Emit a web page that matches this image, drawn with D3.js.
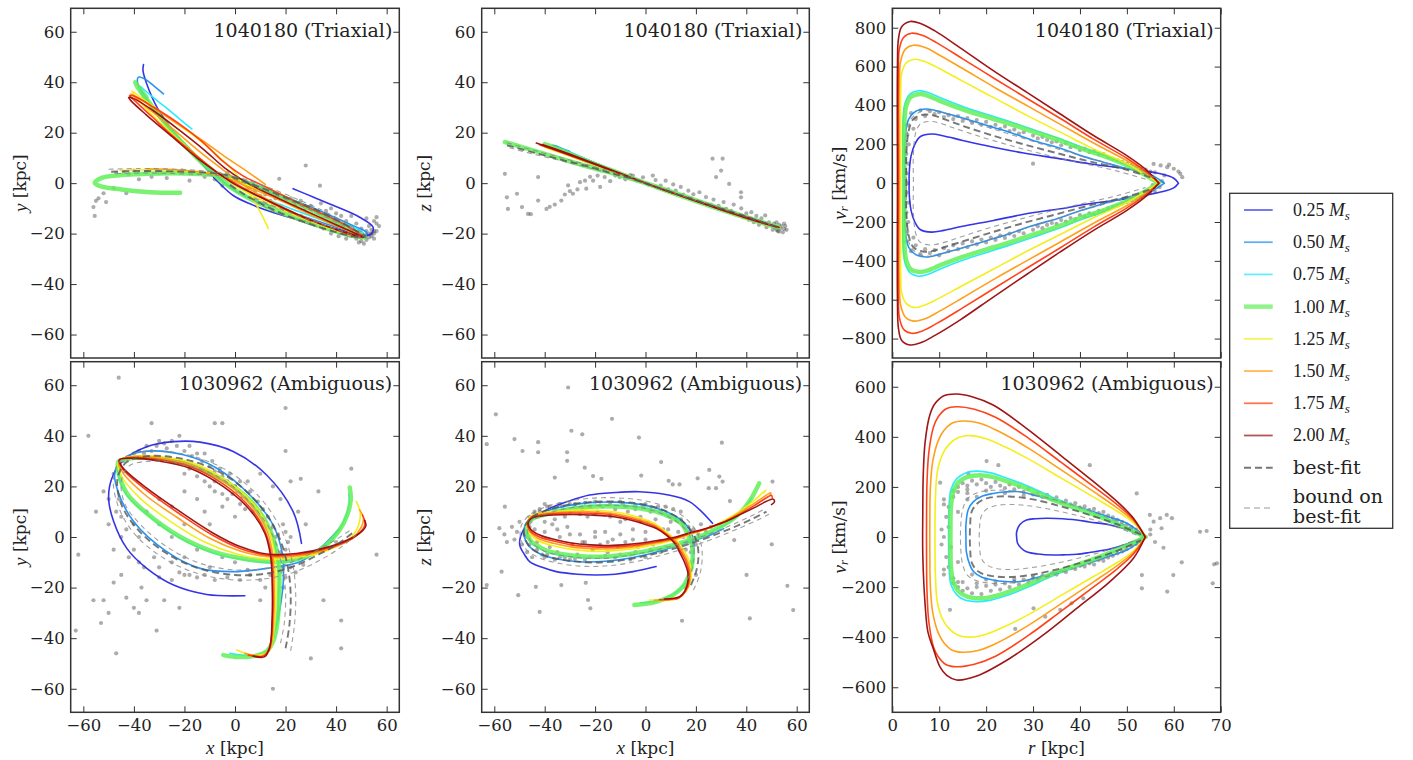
<!DOCTYPE html>
<html><head><meta charset="utf-8">
<script src="https://cdn.jsdelivr.net/npm/d3@7"></script>
<style>body{margin:0;background:#fff}</style>
</head><body>
<svg id="chart" width="1413" height="760"></svg>
<script>
// ---------------- DATA ----------------
const masses = ["0.25","0.50","0.75","1.00","1.25","1.50","1.75","2.00"];
const titles = ["1040180 (Triaxial)","1030962 (Ambiguous)"];
const xyTicks = [-60,-40,-20,0,20,40,60];
const rTicks = [0,10,20,30,40,50,60,70];
const vTicksTop = [-800,-600,-400,-200,0,200,400,600,800];
const vTicksBot = [-600,-400,-200,0,200,400,600];

// Panel 1: x-y, 1040180
const p1_m025 = [[-36.2,47],[-36.4,44.6],[-34.9,39.3],[-30.9,30.1],[-25.7,22.2],[-19.1,14.2],[-12.5,7],[-7.2,1],[-0.7,-4.9],[5.9,-8.2],[19,-12.8],[32.2,-16.1],[45.4,-19.4],[52,-20.7],[54,-20],[54.6,-17.4],[49.3,-13.5],[38.8,-8.8],[30.9,-5.5],[23,-2.2]];
const p1_m050 = [[-28.3,35.4],[-32,38.5],[-36,41.5],[-38.2,42],[-38.5,39.5],[-36,35],[-31,28],[-24,20],[-16,11.5],[-8,3.5],[0,-3],[10,-7.5],[22,-11.5],[34,-15.5],[45,-19],[51.5,-21],[52,-19.5],[47,-17],[36,-12],[25,-7.5],[14,-3],[4,1],[-4,3.5]];
const p1_m075 = [[-17.1,21.5],[-22,25.5],[-28,30.5],[-33,34.5],[-36.5,37.5],[-37.5,38.3],[-37.5,36],[-34,31],[-28,24],[-20,15.5],[-12,7.5],[-5,2],[3,-2.5],[14,-7],[26,-11.5],[38,-16],[47,-19.5],[51.5,-21],[50,-19],[42,-15.5],[30,-10.5],[18,-5.5],[6,-0.5],[-3,3]];
const p1_m100 = [[-21.7,-3.8],[-33.6,-3.6],[-45,-2.5],[-53,-1.3],[-55.5,0],[-53,2],[-45,3.2],[-35,3.7],[-25,3.9],[-14,3.6],[-6,3],[2,1.2],[10,-2],[20,-6],[32,-11.5],[43,-17],[50,-20.5],[51.5,-21.5],[47,-21],[38,-18.5],[26,-14.5],[13,-9.5],[2,-4],[-6,1.5],[-12,7],[-19,14],[-27,23],[-34,32],[-38.5,38],[-39.5,40],[-38.5,38.5],[-35,34]];
const p1_m125 = [[-45.4,5],[-35,5.3],[-22,5],[-12,4.2],[-5,2.8],[4,-0.5],[16,-5.5],[30,-12],[42,-17.5],[50,-20.8],[51,-21.5],[46,-20.5],[35,-17],[22,-12],[10,-6.5],[0,-1],[-8,5],[-17,12.5],[-27,21.5],[-36,30.5],[-40.8,36.5],[-38,34.5],[-30,28.7],[-22,22.9],[-13.8,16.9],[-7,11],[-0.7,5],[5,-3],[9,-9.5],[13.2,-18]];
const p1_m150 = [[-34.9,5.7],[-25,5.4],[-15,4.6],[-6,3],[4,-1],[16,-6],[30,-12.5],[42,-17.8],[50,-21],[51,-21.6],[46,-20.5],[35,-16.5],[23,-11.5],[12,-6],[3,-0.5],[-5,5.5],[-14,12.5],[-24,21],[-33,28.5],[-39.5,34],[-41.2,35.4],[-39.5,34.5],[-31,29],[-22,23],[-13,17],[-4,10.5],[5,4.5],[12,-0.5]];
const p1_m175 = [[30,-15],[20,-10.5],[10,-5.5],[0,0],[-8,5],[-16,11.5],[-25,19],[-33,26.5],[-39.5,32.5],[-41.7,34.7],[-40,34.5],[-32,30],[-22,23.5],[-13,16.5],[-4.6,8.5],[3,3],[12.5,-1.6],[25.7,-8.2],[38.8,-14.1],[47,-18.5],[50.5,-21],[48,-21],[40,-18.5]];
const p1_m200 = [[-6,3.5],[-15,10],[-25,18.5],[-35,27],[-41,32.5],[-42.1,34],[-40,33.5],[-32,28.5],[-22,21],[-12,13],[-4,6],[5,0],[16,-5.5],[28,-11],[40,-16.5],[49,-20.5],[51,-21.5],[47,-20.5],[36,-17],[25,-12.5],[12,-6.5],[0,-0.5],[-6,3.5]];
const p1_best = [[-49,4.5],[-40,4.8],[-30,4.8],[-20,4.5],[-12,4.2],[-5,3.5],[3,1],[12,-2.5],[22,-6.5],[32,-10.5],[42,-15.5],[49,-19.5],[51.5,-21],[49,-21.5],[42,-20],[32,-17],[22,-13.5],[12,-9],[3,-4],[-3,0]];
const p1_bound1 = [[-50,5.5],[-38,5.8],[-25,5.6],[-14,5],[-5,4],[4,1.5],[14,-2],[25,-6.5],[36,-11.5],[46,-17],[51.5,-20.5],[52,-21.5],[47,-21.5],[38,-19],[27,-15.5],[15,-11],[5,-5.5]];
const p1_bound2 = [[-47,3.8],[-36,4],[-24,3.8],[-13,3.4],[-5,2.8],[4,0],[14,-4],[25,-8.5],[36,-13.5],[46,-18.5],[50.5,-20.5],[49,-21],[42,-19],[32,-15.5],[20,-11],[8,-6]];
const p1_scatter = [[-56,-9.5],[-55,-7],[-54,-6],[-51,-7.5],[-55.5,-13],[-52,-4],[-43,-4],[-48,-2],[-47,4],[-44,4.5],[-42,3.5],[-40,5],[-38,1.5],[-35,4.5],[-33,2.5],[-30,4],[-27,2],[-25,4.5],[-21,5],[-18,1],[-15,4],[-12,2.5],[-10,5],[-8,1.5],[-6,2],[-3,4],[0,2],[3,0],[6,-1],[8,-3],[10,-2],[12,-4.5],[14,-3],[16,-6],[17.5,1.7],[18,-5],[20,-7],[22,-6],[24,-8.5],[26,-7],[28,7],[28,-10],[30,-9],[32,-11],[33.6,-1],[34,-8],[35,-13],[36,-11],[38,-10],[38,-14],[40,-12],[41,-16],[42,-13],[43,-18],[44,-15],[45,-17],[46,-19],[46,-13],[47,-21],[48,-16],[48,-22],[49,-20],[50,-18],[50,-23],[51,-21],[52,-19],[52,-22.5],[53,-20],[53,-17],[54,-21],[54,-18.5],[55,-20],[55,-15],[56,-19],[56,-16],[57,-17],[55,-22],[51,-24],[49,-23.5],[44,-22],[41,-21],[38,-20],[35,-18],[30,-15],[26,-13],[22,-12],[18,-9],[14,-7],[10,-5],[8,-6],[5,-2],[56,-13.5],[52,-14],[-5,-1],[53,-21.5],[54,-20],[55,-19],[52,-20.5],[50,-21.5]];

// Panel 2: x-z, 1040180
const p2_m025 = [[-36.7,15],[-32,13],[-28.8,11.6],[-20,8],[-10,4],[0,0],[10,-3.6],[20,-7],[30,-10.5],[40,-13.5],[48,-16],[52,-17.2],[53,-17.8],[51,-17.5]];
const p2_m050 = [[-30,12.5],[-34,14],[-36,15],[-30,12.3],[-20,8],[-10,4],[0,0],[12,-4.2],[25,-8.8],[38,-13],[48,-16.2],[52.5,-17.5]];
const p2_m075 = [[-30,12],[-35,14.2],[-28,11.5],[-18,7.2],[-8,3.2],[2,-0.7],[15,-5.2],[28,-9.8],[40,-13.7],[50,-16.8],[53,-17.6]];
const p2_m100 = [[-55.8,16.3],[-48,14],[-40,11.6],[-32,9.2],[-22,6.3],[-12,3.6],[0,0],[12,-4],[25,-8.5],[38,-12.8],[48,-16],[53,-17.5],[48,-16.3],[36,-12.5],[22,-7.8],[10,-3.7],[0,0],[-10,3.8],[-20,7.5],[-30,11.5],[-37,14.5],[-40,15.5]];
const p2_m125 = [[-40,14.2],[-30,10.8],[-20,7.2],[-10,3.6],[0,0],[12,-4.2],[25,-8.6],[38,-12.9],[48,-16.2],[52.5,-17.4],[45,-15.2],[30,-10.3],[15,-5.2],[0,0],[-12,4.5],[-25,9.3]];
const p2_m150 = [[-41,14.8],[-30,10.9],[-18,6.6],[-6,2.2],[6,-2.2],[18,-6.3],[30,-10.3],[42,-14.2],[50,-16.8],[53,-17.6],[44,-15],[30,-10.4],[16,-5.6],[2,-0.7],[-12,4.4],[-26,9.6],[-36,13.2]];
const p2_m175 = [[-42,15.2],[-30,11.1],[-18,6.7],[-6,2.2],[6,-2.2],[18,-6.3],[30,-10.3],[42,-14.2],[50,-16.8],[53,-17.6],[44,-15.1],[30,-10.5],[16,-5.7],[2,-0.7],[-12,4.5],[-26,9.7],[-38,14]];
const p2_m200 = [[-43.3,15.9],[-32,11.9],[-20,7.5],[-10,3.8],[0,0],[12,-4.3],[25,-8.7],[38,-12.9],[48,-16.1],[53,-17.5],[47,-15.9],[35,-12.1],[22,-7.8],[10,-3.6],[0,0],[-12,4.6],[-25,9.6],[-36,13.6],[-41,15.3]];
const p2_best = [[-55,15],[-45,12.3],[-35,9.7],[-25,7.2],[-15,4.4],[-5,1.6],[5,-1.8],[15,-5.2],[25,-8.5],[35,-11.7],[45,-15],[52,-17.3]];
const p2_bound1 = [[-55,16],[-45,13.2],[-35,10.5],[-25,7.8],[-15,5],[-5,2.1],[5,-1.4],[15,-4.8],[25,-8.1],[35,-11.3],[45,-14.6],[52,-17]];
const p2_bound2 = [[-54,14],[-44,11.4],[-34,9],[-24,6.5],[-14,3.9],[-4,1.1],[6,-2.2],[16,-5.6],[26,-8.9],[36,-12.1],[46,-15.4],[52.5,-17.6]];
const p2_scatter = [[-55.8,3.7],[-55,-5.6],[-54.6,-10.2],[-51,-4.2],[-49,-9.5],[-46.6,-12.2],[-45.5,-12.3],[-42.6,2.4],[-42.6,-6.9],[-39.3,-10.2],[-38,-9.4],[-36,-8.5],[-33.4,-6.9],[-32,-4.5],[-30.7,-0.9],[-30,-3.2],[-28.8,-4.2],[-27,-2.5],[-26,0.4],[-24,1],[-23.5,-2.2],[-22,2.5],[-20.8,1],[-19,3],[-18,-1.5],[-16.2,2.4],[-14,0.8],[-12,3],[-10.3,2.4],[-8,1.5],[-6,3.2],[-5,3],[-3,1],[-1,2.3],[1,-0.5],[2.9,3],[4,1.2],[6,-1],[8,1],[9,-2.5],[11,-0.5],[12,-3],[14,-1.5],[15,-4.5],[17,-3],[18,-6],[19,-4.4],[21.4,-3.6],[22,-7.5],[24,-5.5],[26,-8.5],[26.6,9.7],[27,-6.5],[28,2.4],[29,-9],[30,5],[30.6,9.7],[31,-7.5],[32,-10.2],[33.2,-0.3],[34,-11],[35,-8.5],[36,-12.5],[37.9,-3.6],[37.9,-5.6],[38,-10],[39,-13.5],[40,-12],[41,-14.5],[42,-11.5],[43,-15.5],[44,-13],[45,-16.5],[46,-14],[47,-16],[47.5,-12.8],[48,-17.5],[49,-15.5],[50,-16.8],[50.5,-18.5],[51,-16],[51.5,-17.5],[52,-15.5],[52.5,-19],[53,-16.5],[53.5,-18],[54,-17],[54.5,-19.5],[55,-16],[55,-18.2],[55.5,-17],[56,-18.5],[52,-18.5],[53,-19.2]];

// Panel 3: r-vr, 1040180
const p3_m025 = [[61,0],[60,25],[57.2,48],[50,74],[42,100],[35.8,125],[28,155],[21.6,185],[15,220],[11,243],[8.4,253],[6,240],[4.8,200],[4,140],[3.6,50],[3.6,0],[3.6,-50],[4,-140],[4.8,-200],[6,-240],[8.4,-252],[11,-243],[15,-222],[21.6,-192],[28,-160],[35.8,-132],[42,-106],[50,-80],[57.2,-46],[60,-24],[61,0]];
const p3_m050 = [[58,0],[55,45],[50,74],[45,108],[40,143],[35.8,180],[30,220],[25,262],[21.6,287],[15,335],[11,362],[8.5,378],[7.3,382],[5,370],[3.5,330],[2.8,250],[2.7,0],[2.8,-250],[3.5,-330],[5,-368],[7.3,-380],[8.5,-376],[11,-360],[15,-333],[21.6,-285],[25,-260],[30,-218],[35.8,-178],[40,-142],[45,-106],[50,-73],[55,-44],[58,0]];
const p3_m075 = [[56.8,0],[53,58],[50,97],[45,147],[40,189],[35.8,228],[30,276],[25,317],[21.6,343],[15,395],[10,442],[7.5,468],[5.6,476],[3.8,460],[2.7,410],[2.3,320],[2.3,0],[2.3,-320],[2.7,-410],[3.8,-462],[5.6,-479],[7.5,-470],[10,-444],[15,-397],[21.6,-345],[25,-319],[30,-278],[35.8,-230],[40,-190],[45,-148],[50,-98],[53,-58],[56.8,0]];
const p3_m100 = [[56.8,0],[53,55],[50,92],[45,140],[40,180],[35.8,219],[30,265],[25,305],[21.6,330],[15,380],[10,425],[7.5,450],[5.9,459],[4,445],[3,400],[2.6,320],[2.6,0],[2.6,-320],[3,-400],[4,-445],[5.9,-457],[7.5,-450],[10,-425],[15,-380],[21.6,-330],[25,-305],[30,-265],[35.8,-219],[40,-180],[45,-140],[50,-92],[53,-55],[56.8,0]];
const p3_m125 = [[56.8,0],[53.6,48],[50,100],[43,175],[36,260],[29,345],[22,435],[15,525],[10,590],[7,625],[4.8,638],[3,620],[2,565],[1.8,470],[1.8,0],[1.8,-470],[2,-565],[3,-620],[4.8,-640],[7,-627],[10,-592],[15,-527],[22,-437],[29,-347],[36,-262],[43,-177],[50,-100],[53.6,-48],[56.8,0]];
const p3_m150 = [[56.9,0],[54,55],[50,115],[43,205],[36,300],[29,395],[22,490],[15,590],[10,660],[7,698],[4.5,710],[2.8,690],[1.8,630],[1.5,520],[1.5,0],[1.5,-520],[1.8,-630],[2.8,-690],[4.5,-710],[7,-698],[10,-660],[15,-590],[22,-490],[29,-395],[36,-300],[43,-205],[50,-115],[54,-55],[56.9,0]];
const p3_m175 = [[56.9,0],[54,60],[50,128],[43,225],[36,330],[29,432],[22,535],[15,640],[9.5,722],[6.5,760],[4.1,772],[2.4,750],[1.5,690],[1.3,560],[1.3,0],[1.3,-560],[1.5,-690],[2.4,-752],[4.1,-773],[6.5,-760],[9.5,-722],[15,-642],[22,-537],[29,-433],[36,-330],[43,-225],[50,-127],[54,-60],[56.9,0]];
const p3_m200 = [[56.8,0],[54.3,65],[50,142],[42.9,245],[35.8,356],[28.7,467],[21.6,578],[14.4,698],[9,785],[6,822],[3.8,832],[2,805],[1.3,740],[1.1,600],[1.1,0],[1.1,-600],[1.3,-745],[2,-810],[3.8,-833],[6,-822],[9,-785],[14.4,-705],[21.6,-585],[28.7,-469],[35.8,-354],[42.9,-243],[50,-140],[54.3,-63],[56.8,0]];
const p3_best = [[55,30],[50,68],[42,112],[35,155],[28,200],[21,248],[15,295],[11,330],[8.5,350],[6.5,352],[4.5,330],[3.5,270],[3,150],[3,0],[3,-150],[3.5,-270],[4.5,-330],[6.5,-352],[8.5,-350],[11,-330],[15,-300],[21,-255],[28,-205],[35,-160],[42,-115],[50,-70],[55,-32]];
const p3_bound1 = [[54,20],[48,62],[40,105],[32,150],[25,195],[18,245],[13,285],[10,310],[8,318],[6,305],[5,260],[4.5,150],[4.5,0],[4.5,-150],[5,-260],[6,-305],[8,-318],[10,-312],[13,-290],[18,-250],[25,-200],[32,-155],[40,-108],[48,-64],[54,-22]];
const p3_bound2 = [[56,30],[50,75],[42,128],[35,178],[28,230],[21,283],[15,330],[11,360],[8,375],[6,368],[4,330],[3.2,250],[3,0],[3.2,-250],[4,-330],[6,-368],[8,-376],[11,-362],[15,-334],[21,-288],[28,-235],[35,-182],[42,-130],[50,-76],[56,-32]];
const p3_scatter = [[4,360],[5,330],[6,375],[7,345],[8,370],[9,355],[10,365],[11,340],[12,350],[13,330],[14,345],[15,320],[16,335],[17,310],[18,325],[19,300],[20,315],[21,290],[22,300],[23,280],[24,292],[25,268],[26,276],[27,255],[28,262],[30,245],[31,230],[32,238],[33,222],[34,210],[35,215],[36,195],[37,205],[38,185],[39,190],[40,170],[41,178],[42,160],[43,165],[44,148],[45,150],[46,135],[47,125],[48,118],[49,110],[50,100],[51,92],[52,85],[53,75],[54,70],[55,60],[30,100],[55.7,99],[57.2,91],[58.6,82],[60,74],[61,60],[61.4,48],[61.8,31],[59,95],[56,55],[58,40],[57,-20],[56,-45],[55.5,-10],[57.5,10],[4,-350],[5,-320],[6,-365],[7,-340],[8,-360],[9,-345],[10,-372],[11,-335],[12,-350],[13,-320],[14,-340],[15,-310],[16,-330],[17,-300],[18,-315],[19,-290],[20,-305],[21,-280],[22,-292],[23,-270],[24,-282],[25,-260],[26,-272],[27,-248],[28,-258],[30,-240],[31,-222],[32,-232],[33,-215],[34,-205],[35,-210],[36,-190],[37,-198],[38,-180],[39,-185],[40,-165],[41,-172],[42,-155],[43,-160],[44,-142],[45,-146],[46,-130],[47,-122],[48,-115],[49,-105],[50,-96],[51,-88],[52,-80],[53,-72],[54,-62],[55,-52],[3,300],[3.2,250],[3.5,200],[3,150],[3.4,100],[3,50],[3.3,0],[3,-50],[3.5,-100],[3,-150],[3.4,-200],[3.2,-250],[3,-300],[4.5,280],[4.5,-280]];

// Panel 4: x-y, 1030962
const p4_m025 = [[26.3,-2.5],[23,10],[12.5,24.5],[-0.7,33.8],[-13.8,37.5],[-24.3,37.7],[-34.9,35.7],[-44,30.5],[-48.7,23.2],[-50,15.3],[-48,6.1],[-42.8,-4.5],[-34.9,-12.4],[-24.3,-19],[-11.2,-22.7],[3.9,-23.2]];
const p4_m050 = [[16.4,-34.8],[17.8,-28.2],[19.1,-17.7],[18.8,-7.1],[15.1,4.7],[5.9,16.6],[-7.2,27.2],[-20.4,32.5],[-36.2,33.8],[-44,31],[-47.5,26],[-46.7,19.3],[-40.1,6.1],[-27,-5.8],[-13.8,-12.4],[-0.7,-13.7],[12.5,-12.4],[25.7,-9.8],[33.6,-4.5],[41.4,3.4]];
const p4_m075 = [[-2,-46],[6,-46.8],[12.8,-45],[15.9,-37],[17.2,-25],[17.2,-12],[15.6,-2.8],[12.2,5.2],[5.6,14.3],[-4.8,22.2],[-18,28.3],[-31,31],[-41.5,31],[-46,29.5],[-46.2,25],[-43,16.8],[-35,9],[-22,-0.3],[-9,-6.2],[4.6,-9.2],[15,-10.2],[24.3,-9.2],[33.6,-5.5],[41,2.5],[44,8.5],[45.2,14],[45,17]];
const p4_m100 = [[-4.6,-46.7],[0,-47.4],[4.6,-47.4],[9,-46.8],[12.5,-45.2],[15.2,-41],[16.6,-35],[17.4,-24.9],[17.4,-11.7],[15.8,-2.5],[12.5,5.4],[5.9,14.6],[-4.6,22.5],[-17.8,28.5],[-30.9,31.1],[-41.4,31.1],[-46.1,29.8],[-46.1,25.8],[-42.8,17.3],[-34.9,9.4],[-21.7,0.1],[-8.6,-5.8],[4.6,-8.8],[15.1,-9.8],[24.3,-8.8],[33.6,-5.1],[41.4,2.8],[44.5,9],[45.8,15],[45.4,19.6]];
const p4_m125 = [[0.7,-44.7],[5,-46.3],[9,-46.8],[13.5,-45],[15.8,-33],[16.2,-19],[15.8,-7.5],[13.5,2.5],[7.8,12.5],[-2.8,22],[-16.5,29.2],[-30.3,31.8],[-40,32],[-46,30],[-45.2,24.5],[-37.5,15.3],[-25,5.8],[-12,-2],[1,-6.8],[13.5,-8.8],[24.3,-8.2],[36.5,-5.3],[46,0],[49,5],[49.5,10],[48,14]];
const p4_m150 = [[3.9,-46],[7.5,-46.9],[10.5,-47],[13.8,-44.5],[15.3,-32],[15.5,-18.5],[15,-7.5],[12.8,2],[7,11.7],[-3.5,21.3],[-17,28.5],[-30.5,31.3],[-40,31.8],[-45.9,30.2],[-44.8,26],[-36,17],[-23,7.8],[-10,-0.5],[2,-5.5],[13,-7.8],[24.3,-7.5],[37,-4.8],[46.3,-0.5],[50,4],[50.8,7.5],[49.3,10.7]];
const p4_m175 = [[5.3,-46.7],[8.5,-47.2],[11,-47.2],[13.6,-44],[14.9,-32],[15,-18.5],[14.5,-8],[12.2,1.5],[6.5,11],[-4,20.5],[-17.5,27.8],[-30.7,30.7],[-40,31.4],[-45.8,30.4],[-44.5,27],[-35,18.5],[-22,9.2],[-9,0.8],[2,-4.5],[12.5,-7.2],[24.3,-7],[37,-4.3],[46.5,-0.6],[50.5,3],[51.5,5.5],[50.4,8.7]];
const p4_m200 = [[7.2,-47.1],[11.8,-47.3],[13.8,-43.4],[14.7,-31.5],[14.7,-18.3],[14.1,-7.8],[11.8,1.5],[5.9,10.7],[-4.6,19.9],[-17.8,27.2],[-30.9,30.2],[-40.1,31.1],[-45.7,30.5],[-44.7,27.8],[-34.9,19.3],[-21.7,10],[-8.6,1.5],[2,-3.8],[12.5,-6.7],[24.3,-6.5],[37.5,-3.8],[46.7,-0.1],[50.5,2.5],[51.8,4.5],[51.3,6.5]];
const p4_best = [[20,-44],[21.5,-35],[22,-22],[20.5,-10],[16.5,2],[8.5,14],[-4,24.5],[-19,30.5],[-34,32],[-43,29.5],[-46.5,23],[-45,13],[-38.5,3],[-27,-6.5],[-14,-12.5],[0,-15],[12,-14.5],[22,-12],[32,-7.5],[41,-2.5],[47,2]];
const p4_bound1 = [[22,-45],[23.5,-35],[24,-22],[22.5,-9],[18,3.5],[9.5,16],[-3.5,26.5],[-19,32.5],[-35,34],[-44.5,31],[-48,24],[-46.5,13],[-40,1.5],[-28,-8.5],[-14.5,-14.5],[0,-17],[12,-16.5],[23,-14],[33,-9.5],[42,-4],[48,1]];
const p4_bound2 = [[18,-42],[19.5,-34],[20,-22],[18.5,-11],[15,0.5],[7.5,12],[-4.5,22.5],[-19,28.5],[-33,30],[-42,28],[-45,22],[-43.5,13],[-37,4.5],[-26,-4.5],[-13.5,-10.5],[0,-13],[12,-12.5],[21,-10.5],[31,-6],[40,-1],[46,3]];
const p4_scatter = [[-46,63],[-58,40],[-33,45],[-8,45],[-5,45],[20,51],[20,34],[-62,-7],[-63,-37],[-53,-34],[-47,-46],[-38,-30],[-31,-37],[-28,-25],[-22,-28],[-45,-15],[-43,-24],[-48,-18],[-52,-25],[-56,-25],[-50,-30],[-40,-28],[-37,-20],[-35,-25],[-25,-17],[-20,-15],[-30,-16],[30,-48],[35,-25],[42,-33],[42,-44],[15,-60],[40,-2],[46,27],[56,-7],[26,23],[22,22],[33,18],[-10,-12],[-5,-8],[0,-10],[5,-13],[-15,-5],[-20,-8],[-10,5],[0,8],[-5,12],[-15,15],[-20,18],[-25,12],[-30,15],[-35,10],[-40,5],[-45,8],[-50,15],[-52,18],[-55,10],[-50,5],[-48,-5],[-42,-8],[-38,0],[-30,5],[-25,0],[-20,5],[-12,10],[-8,18],[0,20],[5,22],[10,25],[15,20],[18,15],[12,-20],[10,-25],[25,10],[28,5],[22,0],[-48,25],[-46,28],[-44,30],[-42,31],[-40,33],[-38,34],[-36,33],[-35,36],[-33,34],[-31,36],[-30,38],[-28,37],[-27,35],[-25,38],[-23,36],[-22,40],[-20,34],[-18,36],[-17,32],[-15,33],[-13,30],[-12,33],[-10,28],[-9,30],[-8,26],[-6,27],[-5,24],[-3,22],[-2,25],[0,20],[1,18],[2,22],[3,16],[5,15],[6,18],[8,12],[9,14],[10,9],[11,11],[12,6],[13,8],[14,3],[15,4],[16,0],[17,1],[16,-3],[18,-6],[17,-9],[19,-12],[18,-14],[20,-16],[19,-20],[20,-5],[21,-9],[22,-12],[20,2],[19,5],[21,-2],[-20,25],[-18,27],[-15,24],[-12,22],[-10,20],[-8,22],[-5,17],[-3,15],[-1,17],[2,13],[4,11],[7,10],[-46,15],[-47,10],[-45,0],[-43,3],[-40,-5],[-38,-10],[-36,-12],[-32,-8],[-30,-12],[-25,-10],[-22,-14],[-18,-15],[-15,-16],[-12,-15],[-8,-17],[-3,-16],[2,-17],[6,-15],[10,-17],[14,-15],[24,-14],[27,-11]];

// Panel 5: x-z, 1030962
const p5_m025 = [[26.6,5.4],[17.4,14],[8,16.8],[-2.4,17.9],[-12,17.6],[-22.2,16.6],[-31,14],[-38,11.3],[-44,7.8],[-47.2,4.7],[-49.5,0.5],[-49.9,-3.2],[-48,-7],[-45.9,-9.8],[-41,-12],[-35.4,-13.7],[-27,-14.7],[-19.5,-15],[-12,-14.7],[-5,-13.7],[4.2,-11.7]];
const p5_m050 = [[17.4,-14],[18.8,-9],[19.2,-4],[18.6,0.5],[16.4,4.5],[12,8.2],[5,11.2],[-3,13],[-12,13.8],[-22,13.6],[-31,12.4],[-38.5,10.5],[-44.5,7.8],[-47.8,4.5],[-48.2,0.5],[-46.5,-3.3],[-42,-6.6],[-35,-8.7],[-26,-9.8],[-16,-9.6],[-6,-8.3],[4,-6],[12,-3.7],[19,-1.5],[26,0.9],[31,3.3]];
const p5_m075 = [[-2,-26],[5,-25.2],[11,-22.8],[14.6,-19.7],[16.3,-17.3],[18.5,-11.8],[18.9,-5.8],[18.3,-1.5],[16.7,1.8],[15,5],[10,8.2],[4.2,10.4],[-2,11.7],[-9,12.4],[-16,12.6],[-22.2,12.4],[-29,11.6],[-35.4,10.4],[-41,9],[-44.8,7.7],[-47.2,5.2],[-47.4,3.2],[-46.8,0.2],[-45.5,-2.2],[-42,-4.5],[-38,-6.3],[-30,-7.7],[-22.2,-8.3],[-14,-8.1],[-5,-7],[3,-5.4],[10.8,-3.6],[16,-2],[21.4,-0.2],[27,2.4],[33.2,5.8],[37.5,9.2],[40.5,13],[42,15.5]];
const p5_m100 = [[-4.4,-26.9],[4.2,-25.6],[10.8,-23],[14.5,-20],[16.1,-17.7],[18.3,-12],[18.7,-6],[18.1,-1.8],[16.5,1.5],[14.8,4.7],[10,7.8],[4.2,10],[-2,11.3],[-9,12],[-16,12.2],[-22.2,12],[-29,11.2],[-35.4,10],[-41,8.6],[-44.6,7.4],[-46.8,5.2],[-47,3.4],[-46.6,0.5],[-45.3,-1.8],[-42,-4],[-38,-5.8],[-30,-7.2],[-22.2,-7.8],[-14,-7.6],[-5,-6.5],[3,-5],[10.8,-3.2],[16,-1.7],[21.4,0.1],[27,2.7],[33.2,6.1],[37.5,9.5],[41.2,14],[43.5,18],[45.1,21.2]];
const p5_m125 = [[1.6,-24.9],[8.8,-25],[12.8,-24.3],[16.2,-21.3],[18,-16.8],[18,-12],[16.8,-8],[14.6,-4.4],[12.7,-1.7],[8.2,2],[3.8,5.2],[-2.2,7.6],[-9,9.4],[-15.8,10.3],[-22.2,10.7],[-29,10.6],[-36.7,10.1],[-42.4,9.3],[-45.8,8],[-47,5],[-46.2,1.6],[-43,-1.3],[-37,-3.4],[-29.3,-4.9],[-22,-5.6],[-15.6,-5.6],[-9,-5.1],[-2.4,-4.2],[4,-2.9],[10.8,-1.4],[17,0.7],[24,3.2],[31,6.3],[37.2,10],[43,14.3],[46.8,17.8],[47.8,18.6],[47,17.5]];
const p5_m150 = [[3.5,-25],[9.5,-24.8],[13,-24.2],[16,-21.5],[17.6,-17.2],[17.5,-12.5],[16.3,-8.6],[14.2,-5],[12.5,-2.3],[8.4,1.3],[3.9,4.5],[-2,6.8],[-9,8.6],[-15.5,9.6],[-22.2,10],[-29,10],[-36.7,9.6],[-42.2,9],[-45.6,7.8],[-46.9,5.2],[-46,2.2],[-42.8,-0.5],[-36.5,-2.5],[-29,-4],[-22,-4.6],[-15.6,-4.7],[-9,-4.3],[-2.4,-3.5],[4,-2.4],[10.8,-1],[17,1],[24,3.2],[31,6],[37.2,9.5],[43,13.2],[47.5,16.2],[49.7,17.5],[49.5,16.6]];
const p5_m175 = [[5.5,-24.8],[10,-24.6],[13.3,-24],[15.8,-21.5],[17.2,-17.5],[17.1,-13],[15.9,-9.2],[13.8,-5.5],[12.3,-2.8],[8.5,0.8],[4,3.9],[-2,6.2],[-9,8],[-15,9],[-22.2,9.4],[-29,9.5],[-36.7,9.2],[-42,8.6],[-45.4,7.6],[-46.8,5.3],[-45.8,2.6],[-42.5,0.2],[-36,-1.7],[-28.8,-3.2],[-22,-3.8],[-15.6,-4],[-9,-3.7],[-2.4,-3],[4,-2],[10.8,-0.7],[17,1.2],[24,3.2],[31,5.8],[37.2,8.9],[43,12.3],[47.5,15.2],[50,16.5],[50.3,15.5]];
const p5_m200 = [[7.5,-24.5],[10.8,-24.3],[13.5,-23.6],[15.5,-21.5],[16.8,-17.7],[16.7,-13.5],[15.4,-9.8],[13.5,-6],[12.1,-3.2],[8.5,0.5],[4.2,3.4],[-2,5.6],[-9,7.4],[-15,8.3],[-22.2,8.7],[-29,8.9],[-36.7,8.7],[-42,8.2],[-45.3,7.4],[-46.6,5.4],[-45.5,3],[-42,0.8],[-36,-1],[-28.8,-2.5],[-22,-3.1],[-15.6,-3.4],[-9,-3.1],[-2.4,-2.5],[4,-1.5],[10.8,-0.3],[17,1.5],[24,3.4],[31,5.8],[37.2,8.7],[43,11.5],[47.8,14],[50.5,15],[51.2,14],[50,12.8]];
const p5_best = [[18,-19],[20,-14],[21,-8],[20.5,-2.5],[18.5,2],[14,6.8],[7,10.7],[-2,13.1],[-12,14],[-22,13.8],[-31,12.7],[-39,10.7],[-45,7.8],[-48,4],[-48,0],[-46,-3.8],[-41,-7],[-33,-9],[-24,-10],[-14,-9.8],[-4,-8.3],[6,-6],[14,-3.8],[22,-1.2],[30,1.8],[37,4.7],[43,7.5],[48,10]];
const p5_bound1 = [[19,-21],[21.5,-15],[22.5,-8.5],[22,-2.5],[20,2.5],[15.5,7.8],[8,12],[-2,14.6],[-12,15.5],[-22,15.3],[-31.5,14],[-40,11.8],[-46.5,8.3],[-49.5,4],[-49.5,-0.5],[-47.5,-4.7],[-42,-8.3],[-33.5,-10.6],[-24,-11.6],[-14,-11.3],[-4,-9.8],[6,-7.3],[14,-5],[22,-2.5],[30,0.5],[37,3.4],[44,6.5],[49,9]];
const p5_bound2 = [[16.5,-17],[18.5,-12.5],[19.3,-7.5],[18.8,-2.5],[17,1.5],[12.8,5.8],[6,9.4],[-2,11.6],[-12,12.5],[-22,12.3],[-30.5,11.4],[-38,9.6],[-43.5,7.3],[-46.5,4],[-46.5,0.5],[-44.5,-2.9],[-40,-5.7],[-32.5,-7.4],[-24,-8.4],[-14,-8.3],[-4,-6.8],[6,-4.7],[14,-2.6],[22,0],[30,3],[37,6],[43,8.8],[47,11]];
const p5_scatter = [[-30.7,59.1],[-59.4,48.5],[-13.3,46.7],[-29.4,42],[-25.1,40.6],[-2.6,39.3],[-63,36.7],[-52,38.7],[-42.6,37.5],[-42.6,33.5],[-31.1,33.5],[-31.1,30.1],[-48.8,34],[6.2,29.6],[30.3,37.3],[-24.1,27.4],[-36,23.5],[-20.8,24.1],[-17.5,23],[-1.7,24.3],[9.2,22.2],[10.8,20.8],[13.5,20.8],[20.7,23.2],[25.3,26.5],[29.3,23.9],[30.6,21.9],[28,19.3],[25.1,19.3],[33.5,14.2],[50.4,21.9],[-55.8,12],[-57.1,-13.7],[-63,-19],[-50.5,-23],[-43.5,-19.7],[-33.4,-19],[-23.7,-18.1],[-22.8,-24.9],[-21.9,-28.2],[-42,-29.6],[14.5,-33.1],[40.1,-15],[41.4,-32.2],[50.1,-2.9],[56.3,-19.3],[58.6,-28.9],[35.2,-1.2],[-58,3.5],[-56,1],[-55,-2],[-53,4],[-52,-1],[-51,2],[-50,6],[-49,-3],[-48,1],[-47,-6],[-46,8],[-45,-8],[-44,3],[-43,-2],[-42,10],[-41,-7],[-40,2],[-39,12],[-38,-4],[-37,5],[-36,11],[-35,-6],[-34,0],[-33,12],[-32,-8],[-31,4],[-30,10],[-29,-3],[-28,13],[-27,-7],[-26,1],[-25,11],[-24,-2],[-23,8],[-22,12],[-21,-5],[-20,0],[-19,10],[-18,-3],[-17,12],[-16,2],[-15,-6],[-14,9],[-13,-1],[-12,11],[-11,-4],[-10,6],[-9,13],[-8,-2],[-7,10],[-6,-7],[-5,3],[-4,11],[-3,-4],[-2,8],[-1,12],[0,-1],[1,6],[2,10],[3,-3],[4,7],[5,12],[6,-2],[7,3],[8,9],[9,-1],[10,6],[11,11],[12,-3],[13,2],[14,7],[15,0],[16,-5],[17,4],[18,-1],[19,3],[20,-3],[21,1],[22,5],[24,2],[26,4],[-44,10],[-40,-8],[-36,-9],[-30,-9],[-24,-9],[-18,-8],[-12,-8],[-6,-9],[0,-8],[6,-6],[-40,13],[-30,13],[-20,14],[-10,14],[0,13],[8,12],[14,10],[18,-10],[20,-15],[16,-20],[-44,9],[-42,11],[-38,12],[-34,13],[-28,12],[-24,13.5],[-18,12.5],[-14,13],[-8,12],[-4,12.5],[2,11],[6,10],[10,8.5],[12,7],[15,5],[17,2],[18,-2],[18,-6],[-46,4],[-47,0],[-46,-3],[-43,-5],[-39,-7],[-34,-8],[-28,-8.5],[-22,-8],[-16,-7.5],[-10,-7],[-4,-6],[2,-5],[8,-4],[13,-3],[-35,3],[-30,1],[-25,-2],[-20,2],[-15,-2],[-10,1],[-5,-1],[0,2],[-40,6],[-36,7],[-32,8],[-26,9],[-20,9],[-14,8],[-8,7],[-2,6],[4,4],[9,3]];

// Panel 6: r-vr, 1030962
const p6_m025 = [[53.9,0],[50,30],[46.4,48],[42,60],[39.3,68],[35,74],[32.9,75],[30.5,73],[28.6,68],[27.2,50],[26.5,20],[26.5,0],[26.7,-25],[27.5,-45],[28.6,-59],[31,-68],[34.3,-72],[37,-71],[39.3,-69],[42,-62],[46.4,-48],[50,-28],[53.9,0]];
const p6_m050 = [[54,0],[50,55],[46.5,78],[42.9,101],[35.8,141],[30,168],[27.2,181],[24,180],[21.5,174],[19,162],[17.3,141],[16.2,110],[15.7,50],[15.7,0],[15.8,-60],[16.5,-110],[17.3,-138],[19,-160],[21.5,-172],[24,-178],[27.2,-178],[30,-166],[35.8,-138],[42.9,-98],[46.5,-75],[50,-52],[54,0]];
const p6_m075 = [[54,0],[50,38],[45,80],[39.3,121],[34,160],[28.6,206],[24,238],[21,256],[18,263],[15.5,255],[13.7,232],[12.5,190],[12.1,125],[12,40],[12,-40],[12.1,-125],[12.5,-190],[13.7,-230],[15.5,-252],[18,-258],[21,-252],[24,-236],[28.6,-203],[34,-157],[39.3,-118],[45,-77],[50,-36],[54,0]];
const p6_m100 = [[54,0],[50,35],[45,75],[39.3,114],[34,150],[28.6,194],[24,225],[21,241],[18.7,247],[16,240],[14.2,220],[13,180],[12.5,120],[12.4,40],[12.4,-40],[12.5,-120],[13,-180],[14.2,-218],[16,-238],[18.7,-245],[21,-240],[24,-224],[28.6,-192],[34,-148],[39.3,-112],[45,-73],[50,-34],[54,0]];
const p6_m125 = [[54,0],[51.4,57],[48,102],[43,158],[36,235],[29,312],[24,360],[20,392],[16.6,405],[14,396],[12,368],[10.7,330],[9.6,260],[9.2,160],[9.1,50],[9.1,-50],[9.2,-160],[9.6,-260],[10.7,-328],[12,-364],[14,-392],[16.6,-400],[20,-388],[24,-357],[29,-310],[36,-233],[43,-157],[48,-101],[51.4,-56],[54,0]];
const p6_m150 = [[54,0],[51.4,64],[48,115],[43,180],[36,268],[29,355],[22,428],[18.5,455],[15.1,463],[12.8,455],[11,425],[9.8,385],[8.6,300],[8.1,190],[8,60],[8,-60],[8.1,-190],[8.6,-300],[9.8,-383],[11,-422],[12.8,-452],[15.1,-460],[18.5,-452],[22,-426],[29,-353],[36,-266],[43,-178],[48,-113],[51.4,-62],[54,0]];
const p6_m175 = [[54,0],[51.4,70],[48,128],[43,200],[36,298],[29,395],[22,478],[17.5,510],[13.7,520],[11.5,512],[9.8,480],[8.8,440],[7.8,340],[7.4,220],[7.3,80],[7.3,-80],[7.4,-220],[7.8,-340],[8.8,-440],[9.8,-478],[11.5,-510],[13.7,-518],[17.5,-508],[22,-476],[29,-393],[36,-296],[43,-198],[48,-126],[51.4,-68],[54,0]];
const p6_m200 = [[53.9,0],[51.4,75],[48,140],[42.9,221],[35.8,327],[28.6,434],[21.5,527],[17,560],[13.7,571],[11,564],[9,530],[8,487],[7,380],[6.6,250],[6.5,100],[6.5,-72],[7,-271],[7.6,-380],[8.7,-444],[10.2,-520],[11.6,-553],[13.7,-571],[18,-555],[25.1,-484],[32.2,-391],[39.3,-285],[46.4,-178],[51.4,-85],[53.9,0]];
const p6_best = [[53,10],[48,50],[42,88],[36,122],[30,150],[25,162],[21,158],[18.5,140],[17,105],[16.6,50],[16.6,-50],[17,-105],[18.5,-140],[21,-155],[25,-160],[30,-150],[36,-125],[42,-92],[48,-55],[53,-12]];
const p6_bound1 = [[53,15],[48,62],[42,105],[36,142],[30,170],[25,185],[21,186],[18,176],[16,152],[15,110],[14.6,50],[14.6,-50],[15,-110],[16,-152],[18,-175],[21,-185],[25,-184],[30,-170],[36,-142],[42,-106],[48,-65],[53,-18]];
const p6_bound2 = [[52,8],[47,45],[41,78],[35,105],[29,125],[25,130],[22,125],[20,110],[19,85],[18.6,40],[18.6,-40],[19,-85],[20,-110],[22,-125],[25,-130],[29,-124],[35,-105],[41,-78],[47,-46],[52,-10]];
const p6_scatter = [[10.2,217],[20.1,303],[22.6,287],[16.2,254],[42.1,287],[52.1,174],[54.9,88],[57.1,75],[58.5,88],[59.6,75],[57.4,35],[55.7,61],[65.6,21],[67,24],[68.6,-109],[69.2,-105],[68.3,-185],[61.7,-101],[59.9,-152],[58.6,-218],[57.8,-43],[53.2,-152],[53.2,-205],[12.3,-291],[26.2,-367],[30.1,-285],[32.6,-318],[35.8,-291],[38.2,-265],[40.7,-245],[13,185],[14,200],[15,215],[16,205],[17,225],[18,210],[19,230],[20,215],[21,200],[22,220],[23,205],[24,195],[25,210],[26,190],[27,200],[28,180],[29,192],[30,170],[31,178],[32,160],[33,168],[34,150],[35,158],[36,140],[37,145],[38,130],[39,135],[40,118],[41,122],[42,108],[43,112],[44,95],[45,100],[46,85],[47,78],[48,68],[49,60],[50,50],[51,40],[52,30],[53,20],[11,150],[12,120],[11.5,80],[12,40],[11,0],[12.5,-40],[11.5,-80],[12,-120],[11,-150],[13,160],[13,-165],[14,100],[14,-100],[10.5,30],[10.5,-30],[11,130],[11,-130],[13,-185],[14,-200],[15,-215],[16,-205],[17,-225],[18,-200],[19,-228],[20,-195],[21,-215],[22,-190],[23,-210],[24,-185],[25,-200],[26,-178],[27,-190],[28,-170],[29,-182],[30,-165],[31,-172],[32,-155],[33,-160],[34,-145],[35,-150],[36,-135],[37,-140],[38,-125],[39,-128],[40,-115],[41,-118],[42,-105],[43,-110],[44,-92],[45,-95],[46,-82],[47,-75],[48,-65],[49,-58],[50,-48],[51,-38],[52,-28],[53,-18],[16,150],[17,-150],[18,160],[20,-170],[15,-180],[16,175],[55,10],[56,-20],[55,30],[14,180],[16,190],[20,185],[24,175],[28,165],[14,-180],[18,-185],[22,-178],[26,-168],[30,-155]];

// ---------------- STYLE ----------------
const massColors = ["#2a2ae6","#1e8cf0","#22e8ff","#62ee58","#f2ee10","#ff9a10","#ff3a10","#9a0a0a"];
const massWidths = [1.6,1.6,1.6,4.5,1.6,1.6,1.6,1.6];
const serif = "'DejaVu Serif', serif";
const mathFont = "'Liberation Serif', 'DejaVu Serif', serif";

const panels = [
  {l:70.7,r:399.3,t:8.3,b:358,xd:[-65,65],yd:[-69.3,69.3],xt:xyTicks,yt:xyTicks,title:titles[0],xlab:null,ylab:"y",labX:20,
   m:[p1_m025,p1_m050,p1_m075,p1_m100,p1_m125,p1_m150,p1_m175,p1_m200],best:p1_best,bounds:[p1_bound1,p1_bound2],sc:p1_scatter},
  {l:481.7,r:809.3,t:8.3,b:358,xd:[-65,65],yd:[-69.3,69.3],xt:xyTicks,yt:xyTicks,title:titles[0],xlab:null,ylab:"z",labX:424,
   m:[p2_m025,p2_m050,p2_m075,p2_m100,p2_m125,p2_m150,p2_m175,p2_m200],best:p2_best,bounds:[p2_bound1,p2_bound2],sc:p2_scatter},
  {l:892.3,r:1220.7,t:8.3,b:358,xd:[0,70],yd:[-900,900],xt:rTicks,yt:vTicksTop,title:titles[0],xlab:null,ylab:"v",labX:839,
   m:[p3_m025,p3_m050,p3_m075,p3_m100,p3_m125,p3_m150,p3_m175,p3_m200],best:p3_best,bounds:[p3_bound1,p3_bound2],sc:p3_scatter},
  {l:70.7,r:399.3,t:361.7,b:712.3,xd:[-65,65],yd:[-69.3,69.3],xt:xyTicks,yt:xyTicks,title:titles[1],xlab:"x",ylab:"y",labX:20,
   m:[p4_m025,p4_m050,p4_m075,p4_m100,p4_m125,p4_m150,p4_m175,p4_m200],best:p4_best,bounds:[p4_bound1,p4_bound2],sc:p4_scatter},
  {l:481.7,r:809.3,t:361.7,b:712.3,xd:[-65,65],yd:[-69.3,69.3],xt:xyTicks,yt:xyTicks,title:titles[1],xlab:"x",ylab:"z",labX:424,
   m:[p5_m025,p5_m050,p5_m075,p5_m100,p5_m125,p5_m150,p5_m175,p5_m200],best:p5_best,bounds:[p5_bound1,p5_bound2],sc:p5_scatter},
  {l:892.3,r:1220.7,t:361.7,b:712.3,xd:[0,70],yd:[-700,700],xt:rTicks,yt:vTicksBot,title:titles[1],xlab:"r",ylab:"v",labX:839,
   m:[p6_m025,p6_m050,p6_m075,p6_m100,p6_m125,p6_m150,p6_m175,p6_m200],best:p6_best,bounds:[p6_bound1,p6_bound2],sc:p6_scatter}
];

const svg = d3.select("#chart");
const fmt = d => d < 0 ? "\u2212" + Math.abs(d) : String(d);

panels.forEach((p, i) => {
  const x = d3.scaleLinear().domain(p.xd).range([p.l, p.r]);
  const y = d3.scaleLinear().domain(p.yd).range([p.b, p.t]);
  const cid = "clip" + i;
  svg.append("clipPath").attr("id", cid).append("rect")
    .attr("x", p.l).attr("y", p.t).attr("width", p.r - p.l).attr("height", p.b - p.t);
  const g = svg.append("g").attr("clip-path", `url(#${cid})`);
  const line = d3.line().x(d => x(d[0])).y(d => y(d[1])).curve(d3.curveCatmullRom.alpha(0.5));

  g.selectAll("circle").data(p.sc).join("circle")
    .attr("cx", d => x(d[0])).attr("cy", d => y(d[1])).attr("r", 2.1)
    .attr("fill", "#3a3a3a").attr("opacity", 0.42);

  p.m.forEach((arr, k) => {
    g.append("path").attr("d", line(arr)).attr("fill", "none")
      .attr("stroke", massColors[k]).attr("stroke-width", massWidths[k])
      .attr("stroke-opacity", k === 3 ? 0.85 : 0.95)
      .attr("stroke-linejoin", "round").attr("stroke-linecap", "round");
  });
  p.bounds.forEach(arr => {
    g.append("path").attr("d", line(arr)).attr("fill", "none")
      .attr("stroke", "#888").attr("stroke-width", 1.1).attr("stroke-dasharray", "5,4").attr("opacity", 0.8);
  });
  g.append("path").attr("d", line(p.best)).attr("fill", "none")
    .attr("stroke", "#555").attr("stroke-width", 1.9).attr("stroke-dasharray", "7,4").attr("opacity", 0.8);

  // axes (inward ticks)
  const tk = 6;
  const left = svg.append("g").attr("transform", `translate(${p.l},0)`)
    .call(d3.axisLeft(y).tickValues(p.yt).tickSize(-tk).tickPadding(6).tickFormat(fmt));
  const right = svg.append("g").attr("transform", `translate(${p.r},0)`)
    .call(d3.axisRight(y).tickValues(p.yt).tickSize(-tk).tickFormat(""));
  const top = svg.append("g").attr("transform", `translate(0,${p.t})`)
    .call(d3.axisTop(x).tickValues(p.xt).tickSize(-tk).tickFormat(""));
  const bottom = svg.append("g").attr("transform", `translate(0,${p.b})`)
    .call(d3.axisBottom(x).tickValues(p.xt).tickSize(-tk).tickPadding(7).tickFormat(p.xlab ? fmt : ""));
  [left, right, top, bottom].forEach(a => {
    a.select(".domain").remove();
    a.selectAll("line").attr("stroke", "#333").attr("stroke-width", 1);
    a.selectAll("text").attr("font-family", serif).attr("font-size", 16.5).attr("fill", "#222");
  });

  svg.append("rect").attr("x", p.l).attr("y", p.t).attr("width", p.r - p.l).attr("height", p.b - p.t)
    .attr("fill", "none").attr("stroke", "#333").attr("stroke-width", 1.5);

  svg.append("text").attr("x", p.r - 7).attr("y", p.t + 28.5).attr("text-anchor", "end")
    .attr("font-family", serif).attr("font-size", 19).attr("fill", "#222").text(p.title);

  // y label
  const cy = (p.t + p.b) / 2;
  const yl = svg.append("text").attr("transform", `translate(${p.labX},${cy}) rotate(-90)`)
    .attr("text-anchor", "middle").attr("dominant-baseline", "central").attr("font-size", 17).attr("fill", "#222");
  if (p.ylab === "v") {
    yl.append("tspan").attr("font-family", mathFont).attr("font-style", "italic").attr("font-size", 19).text("v");
    yl.append("tspan").attr("font-family", mathFont).attr("font-style", "italic").attr("font-size", 13).attr("dy", 4).text("r");
    yl.append("tspan").attr("font-family", serif).attr("dy", -4).text(" [km/s]");
  } else {
    yl.append("tspan").attr("font-family", mathFont).attr("font-style", "italic").attr("font-size", 19).text(p.ylab);
    yl.append("tspan").attr("font-family", serif).text(" [kpc]");
  }
  if (p.xlab) {
    const xl = svg.append("text").attr("x", (p.l + p.r) / 2).attr("y", 754)
      .attr("text-anchor", "middle").attr("font-size", 17).attr("fill", "#222");
    xl.append("tspan").attr("font-family", mathFont).attr("font-style", "italic").attr("font-size", 19).text(p.xlab);
    xl.append("tspan").attr("font-family", serif).text(" [kpc]");
  }
});

// legend
const lg = svg.append("g");
lg.append("rect").attr("x", 1229.7).attr("y", 193.3).attr("width", 163).attr("height", 335)
  .attr("fill", "#fff").attr("stroke", "#333").attr("stroke-width", 1.3);
const rowY = d3.scaleLinear().domain([0, 8]).range([210, 467.7]);
masses.forEach((m, k) => {
  const yy = rowY(k);
  lg.append("line").attr("x1", 1244).attr("x2", 1272.7).attr("y1", yy).attr("y2", yy)
    .attr("stroke", massColors[k]).attr("stroke-width", k === 3 ? 4.5 : 1.8).attr("stroke-opacity", 0.7);
  const t = lg.append("text").attr("x", 1293).attr("y", yy + 6).attr("font-size", 18).attr("fill", "#222");
  t.append("tspan").attr("font-family", mathFont).text(m + " ");
  t.append("tspan").attr("font-family", mathFont).attr("font-style", "italic").attr("font-size", 19).text("M");
  t.append("tspan").attr("font-family", mathFont).attr("font-style", "italic").attr("font-size", 13).attr("dy", 4).text("s");
});
lg.append("line").attr("x1", 1244).attr("x2", 1272.7).attr("y1", rowY(8)).attr("y2", rowY(8))
  .attr("stroke", "#555").attr("stroke-width", 2).attr("stroke-dasharray", "7,4").attr("opacity", 0.8);
lg.append("text").attr("x", 1293).attr("y", rowY(8) + 6).attr("font-family", serif).attr("font-size", 19).attr("fill", "#222").text("best-fit");
lg.append("line").attr("x1", 1244).attr("x2", 1272.7).attr("y1", 508).attr("y2", 508)
  .attr("stroke", "#999").attr("stroke-width", 1.1).attr("stroke-dasharray", "6,4");
lg.append("text").attr("x", 1293).attr("y", 503).attr("font-family", serif).attr("font-size", 19).attr("fill", "#222").text("bound on");
lg.append("text").attr("x", 1293).attr("y", 523).attr("font-family", serif).attr("font-size", 19).attr("fill", "#222").text("best-fit");
</script>
</body></html>
